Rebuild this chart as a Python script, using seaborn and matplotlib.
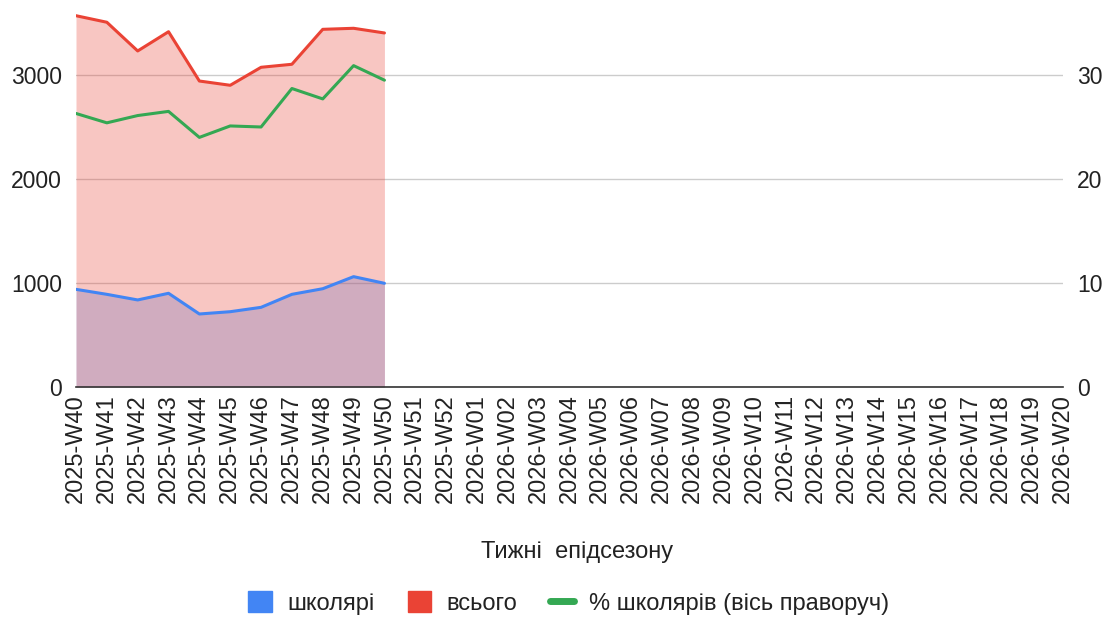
import numpy as np
import pandas as pd
import matplotlib
matplotlib.use("Agg")
import matplotlib.pyplot as plt
import seaborn as sns
from matplotlib.patches import Patch
from matplotlib.lines import Line2D

weeks = [f"2025-W{w}" for w in range(40, 53)] + [f"2026-W{w:02d}" for w in range(1, 21)]
schoolers = [939, 891, 837, 901, 702, 724, 766, 891, 945, 1061, 997]
total = [3570, 3507, 3231, 3416, 2942, 2901, 3074, 3103, 3439, 3449, 3404]
pct_schoolers = [26.3, 25.4, 26.1, 26.5, 24.0, 25.1, 25.0, 28.7, 27.7, 30.9, 29.5]

left_ticks = [0, 1000, 2000, 3000]
right_ticks = [0, 10, 20, 30]
series_names = ["школярі", "всього", "% школярів (вісь праворуч)"]

BLUE = "#4285F4"
RED = "#EA4335"
GREEN = "#34A853"

sns.set_theme(style="white")
plt.rcParams["font.family"] = ["Liberation Sans", "DejaVu Sans"]

fig = plt.figure(figsize=(11.09, 6.19), dpi=100)
ax = fig.add_axes([76 / 1109, 1 - 387 / 619, (1063 - 76) / 1109, 387 / 619])
ax2 = ax.twinx()

n = len(schoolers)
df = pd.DataFrame({"x": np.arange(n), "schoolers": schoolers, "total": total, "pct": pct_schoolers})

ax.fill_between(df["x"], 0, df["schoolers"], color=BLUE, alpha=0.3, linewidth=0, zorder=1)
ax.fill_between(df["x"], 0, df["total"], color=RED, alpha=0.3, linewidth=0, zorder=2)
sns.lineplot(data=df, x="x", y="schoolers", ax=ax, color=BLUE, linewidth=2.2, zorder=4)
sns.lineplot(data=df, x="x", y="total", ax=ax, color=RED, linewidth=2.2, zorder=4)
sns.lineplot(data=df, x="x", y="pct", ax=ax2, color=GREEN, linewidth=2.2, zorder=4)

ymax = 3721
ax.set_ylim(0, ymax)
ax2.set_ylim(0, ymax / 100)
ax.set_xlim(0, len(weeks) - 1)

ax.set_yticks(left_ticks)
ax.set_yticklabels([str(t) for t in left_ticks])
ax2.set_yticks(right_ticks)
ax2.set_yticklabels([str(t) for t in right_ticks])
ax.set_xticks(np.arange(len(weeks)))
ax.set_xticklabels(weeks, rotation=90)

ax.grid(axis="y", color="#cccccc", linewidth=1.0, zorder=0)
ax.set_axisbelow(True)
ax2.grid(False)

for a in (ax, ax2):
    for s in ("top", "left", "right", "bottom"):
        a.spines[s].set_visible(False)
    a.set_ylabel("")
    a.set_xlabel("")
ax.spines["bottom"].set_visible(True)
ax.spines["bottom"].set_color("#333333")
ax.spines["bottom"].set_linewidth(1.2)
ax.spines["bottom"].set_zorder(5)

ax.tick_params(axis="y", length=0, pad=10, labelsize=16.5, labelcolor="#222222")
ax2.tick_params(axis="y", length=0, pad=10, labelsize=16.5, labelcolor="#222222")
ax.tick_params(axis="x", length=0, pad=5, labelsize=17, labelcolor="#222222")

fig.text(577 / 1109, 1 - 552 / 619, "Тижні  епідсезону", ha="center", va="center",
         fontsize=17, color="#222222")

handles = [
    Patch(facecolor=BLUE, edgecolor=BLUE),
    Patch(facecolor=RED, edgecolor=RED),
    Line2D([0], [0], color=GREEN, linewidth=5),
]
fig.legend(handles, series_names, loc="center", bbox_to_anchor=(569 / 1109, 1 - 603 / 619),
           ncol=3, frameon=False, fontsize=17, handlelength=1.0, handleheight=1.0,
           columnspacing=1.4, handletextpad=0.65, labelcolor="#222222")

fig.savefig("out.png", dpi=100)
